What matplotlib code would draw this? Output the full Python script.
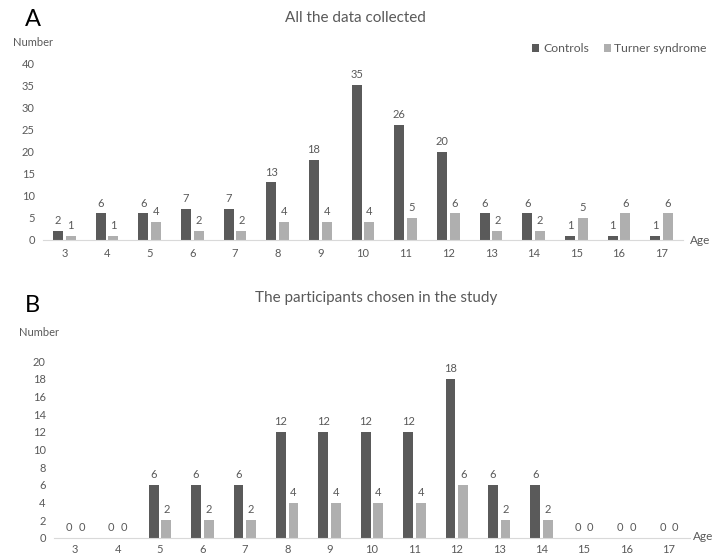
import numpy as np
import matplotlib.pyplot as plt

ages = [3, 4, 5, 6, 7, 8, 9, 10, 11, 12, 13, 14, 15, 16, 17]
all_controls = [2, 6, 6, 7, 7, 13, 18, 35, 26, 20, 6, 6, 1, 1, 1]
all_turner = [1, 1, 4, 2, 2, 4, 4, 4, 5, 6, 2, 2, 5, 6, 6]
chosen_controls = [0, 0, 6, 6, 6, 12, 12, 12, 12, 18, 6, 6, 0, 0, 0]
chosen_turner = [0, 0, 2, 2, 2, 4, 4, 4, 4, 6, 2, 2, 0, 0, 0]

dark = "#5a5a5a"
light = "#afafaf"
grey_txt = "#595959"

plt.rcParams['font.family'] = ['Lato', 'DejaVu Sans']

fig = plt.figure(figsize=(7.18, 5.56), dpi=100)
W, H = 718, 556


def panel(rect, ctrl, turn, ymax, ystep, title, title_x, letter, letter_xy,
          number_xy, age_xy, pad, xpad):
    l, r, b, t = rect
    ax = fig.add_axes([l / W, 1 - b / H, (r - l) / W, (b - t) / H])
    x = np.array(ages)
    bw = 0.23
    off = 0.15
    ax.bar(x - off, ctrl, bw, color=dark, label="Controls")
    ax.bar(x + off, turn, bw, color=light, label="Turner syndrome")
    for xi, c, tv in zip(x, ctrl, turn):
        ax.annotate(str(c), (xi - off, c), xytext=(0, pad), textcoords="offset points",
                    ha="center", va="bottom", fontsize=8, color=grey_txt)
        ax.annotate(str(tv), (xi + off, tv), xytext=(0, pad), textcoords="offset points",
                    ha="center", va="bottom", fontsize=8, color=grey_txt)
    ax.set_xlim(2.5, 17.5)
    ax.set_ylim(0, ymax)
    ax.set_xticks(ages)
    ax.set_yticks(np.arange(0, ymax + 0.1, ystep))
    for s in ["top", "right", "left"]:
        ax.spines[s].set_visible(False)
    ax.spines["bottom"].set_color("#d9d9d9")
    ax.tick_params(length=0, labelsize=8, colors=grey_txt)
    ax.tick_params(axis="x", pad=xpad)
    ax.tick_params(axis="y", pad=6)
    fig.text(title_x / W, 1 - title[1] / H, title[0], ha="center", va="center",
             fontsize=11, color=grey_txt)
    fig.text(letter_xy[0] / W, 1 - letter_xy[1] / H, letter, ha="center", va="center",
             fontsize=17, color="black")
    fig.text(number_xy[0] / W, 1 - number_xy[1] / H, "Number", ha="center", va="center",
             fontsize=8, color=grey_txt)
    fig.text(age_xy[0] / W, 1 - age_xy[1] / H, "Age", ha="center", va="center",
             fontsize=8.5, color=grey_txt)
    return ax


axA = panel((43, 683, 240, 63), all_controls, all_turner, 40, 5,
            ("All the data collected", 18), 355, "A", (33, 19), (33, 42), (700, 240),
            3.5, 6)
panel((54, 690, 538, 361), chosen_controls, chosen_turner, 20, 2,
      ("The participants chosen in the study", 298), 376, "B", (32, 305), (39, 332),
      (703, 537), 3.5, 4)

fig.legend(*axA.get_legend_handles_labels(), loc="center right",
           bbox_to_anchor=(718 / W, 1 - 49 / H), ncol=2, frameon=False,
           fontsize=8.8, handlelength=0.6, handleheight=0.6, handletextpad=0.3,
           columnspacing=1.2, labelcolor=grey_txt)

fig.savefig("out.png", dpi=100)
